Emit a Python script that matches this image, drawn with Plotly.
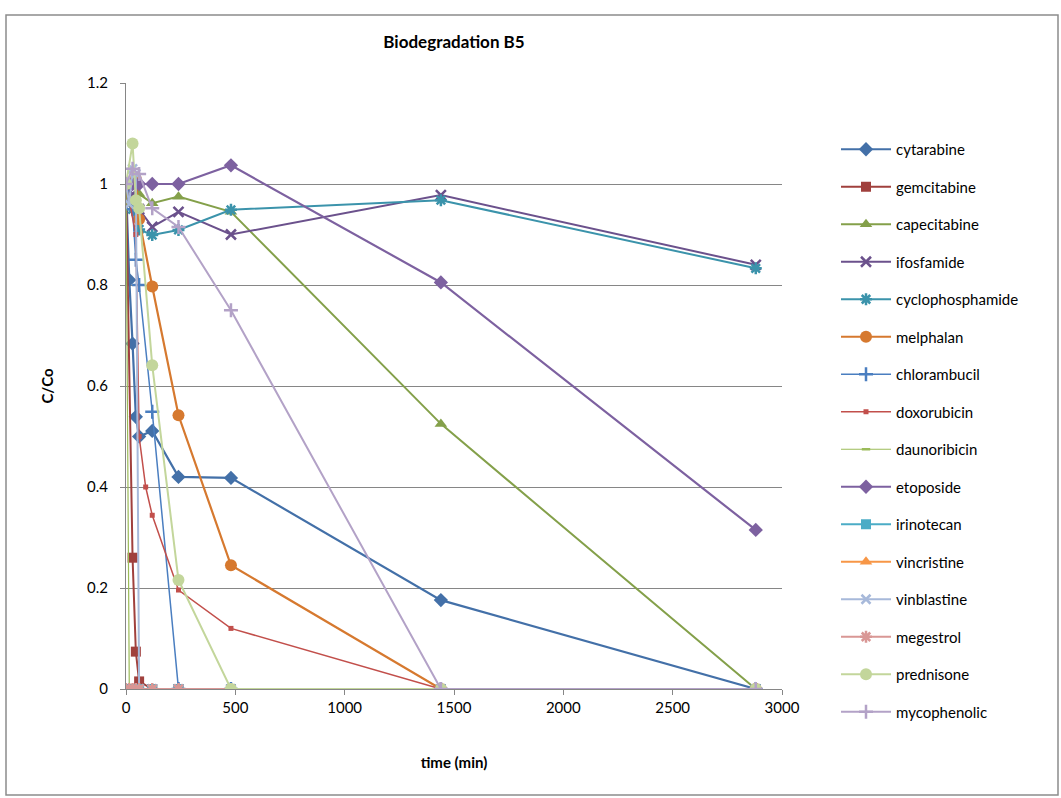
import plotly.graph_objects as go

# Sampling times (min) shared by every compound; None = no measurement
TIME_MIN = [0, 15, 30, 45, 60, 90, 120, 240, 480, 1440, 2880]

cytarabine = [1.0, 0.81, 0.684, 0.539, 0.50, None, 0.511, 0.42, 0.418, 0.176, 0.0]
gemcitabine = [1.0, None, 0.26, 0.074, 0.015, None, 0.0, 0.0, 0.0, 0.0, 0.0]
capecitabine = [1.0, None, 1.0, None, 0.98, None, 0.962, 0.975, 0.945, 0.525, 0.0]
ifosfamide = [1.0, None, 0.98, None, 0.95, None, 0.915, 0.945, 0.90, 0.978, 0.84]
cyclophosphamide = [1.0, None, 0.95, None, 0.91, None, 0.899, 0.909, 0.949, 0.968, 0.833]
melphalan = [1.0, None, 1.0, 1.01, 0.93, None, 0.797, 0.542, 0.245, 0.0, 0.0]
chlorambucil = [1.0, None, 0.95, 0.85, 0.80, None, 0.549, 0.0, 0.0, 0.0, 0.0]
doxorubicin = [1.0, None, None, 0.90, 0.50, 0.40, 0.344, 0.196, 0.12, 0.0, 0.0]
daunoribicin = [1.0, 0.0, 0.0, 0.0, 0.0, None, 0.0, 0.0, 0.0, 0.0, 0.0]
etoposide = [1.0, None, 1.0, None, 1.0, None, 1.0, 1.0, 1.037, 0.805, 0.315]
irinotecan = [0.0, 0.0, 0.0, 0.0, 0.0, None, 0.0, 0.0, 0.0, 0.0, 0.0]
vincristine = [0.0, 0.0, 0.0, 0.0, 0.0, None, 0.0, 0.0, 0.0, 0.0, 0.0]
vinblastine = [1.0, 0.96, 1.03, 1.02, 0.0, None, 0.0, 0.0, 0.0, 0.0, 0.0]
megestrol = [0.0, 0.0, 0.0, 0.0, 0.0, None, 0.0, 0.0, 0.0, 0.0, 0.0]
prednisone = [1.0, None, 1.08, 0.968, 0.952, None, 0.641, 0.216, 0.0, 0.0, 0.0]
mycophenolic = [1.0, None, 1.03, None, 1.02, None, 0.952, 0.915, 0.75, 0.0, 0.0]

# (name, values, colour, marker symbol, marker size, line width)
SERIES = [
    ("cytarabine", cytarabine, "#4370A8", "diamond", 11, 2.2),
    ("gemcitabine", gemcitabine, "#A0403D", "square", 10, 2.0),
    ("capecitabine", capecitabine, "#84A04A", "triangle-up", 11, 2.0),
    ("ifosfamide", ifosfamide, "#6B518C", "x-thin", 10, 2.0),
    ("cyclophosphamide", cyclophosphamide, "#3B93AB", "asterisk", 10, 2.0),
    ("melphalan", melphalan, "#D6792F", "circle", 12, 2.2),
    ("chlorambucil", chlorambucil, "#4A7EC0", "cross-thin", 10, 1.5),
    ("doxorubicin", doxorubicin, "#C24F4B", "square", 5, 1.5),
    ("daunoribicin", daunoribicin, "#9BBB59", "line-ew", 6, 1.2),
    ("etoposide", etoposide, "#7D61A0", "diamond", 11, 2.2),
    ("irinotecan", irinotecan, "#4BACC6", "square", 10, 2.0),
    ("vincristine", vincristine, "#F79646", "triangle-up", 11, 2.2),
    ("vinblastine", vinblastine, "#A7B9DA", "x-thin", 9, 2.0),
    ("megestrol", megestrol, "#D99795", "asterisk", 10, 2.0),
    ("prednisone", prednisone, "#C3D69B", "circle", 12, 2.0),
    ("mycophenolic", mycophenolic, "#B3A2C7", "cross-thin", 10, 2.0),
]

THIN = {"x-thin", "cross-thin", "asterisk", "line-ew"}

fig = go.Figure()
for name, vals, col, sym, size, lw in SERIES:
    marker = dict(symbol=sym, size=size, color=col)
    if sym in THIN:
        marker["line"] = dict(color=col, width=2.5)
    else:
        marker["line"] = dict(color=col, width=0)
    fig.add_trace(go.Scatter(
        x=TIME_MIN, y=vals, name=name, mode="lines+markers",
        connectgaps=True, legendgroup=name,
        line=dict(color=col, width=lw), marker=marker,
    ))

GRID = "#868686"
L, R, T, B = 126, 782, 83, 689
W, H = 1061, 798
pw, ph = R - L, B - T

fig.update_layout(
    width=W, height=H,
    margin=dict(l=L, r=W - R, t=T, b=H - B, pad=0),
    paper_bgcolor="white", plot_bgcolor="white",
    font=dict(family="Lato, Liberation Sans, sans-serif", size=15, color="black"),
    title=dict(text="<b>Biodegradation B5</b>", x=(L + R) / 2 / W, xanchor="center",
               y=1 - 42 / H, yanchor="middle",
               font=dict(size=17, color="black")),
    showlegend=True,
    legend=dict(x=(836 - L) / pw, xanchor="left", y=(B - 133) / ph, yanchor="top",
                tracegroupgap=15, font=dict(size=15),
                bgcolor="rgba(0,0,0,0)", itemwidth=50),
    xaxis=dict(range=[0, 3000], dtick=500, showgrid=False, zeroline=False,
               showline=True, linecolor=GRID, linewidth=1,
               ticks="outside", ticklen=5, tickcolor=GRID,
               title=dict(text="<b>time (min)</b>", font=dict(size=15), standoff=42)),
    yaxis=dict(range=[0, 1.2], dtick=0.2, showgrid=True, gridcolor=GRID,
               gridwidth=1, zeroline=False, showline=True, linecolor=GRID,
               linewidth=1, ticks="outside", ticklen=5, tickcolor=GRID,
               ticklabelstandoff=9,
               title=dict(text="<b>C/Co</b>", font=dict(size=15), standoff=29)),
    shapes=[dict(type="rect", xref="paper", yref="paper",
                 x0=(6 - L) / pw, x1=(1058 - L) / pw,
                 y0=(B - 795) / ph, y1=(B - 15) / ph,
                 line=dict(color="#8C8C8C", width=1.5), layer="below")],
)

fig.write_html("out.html")
